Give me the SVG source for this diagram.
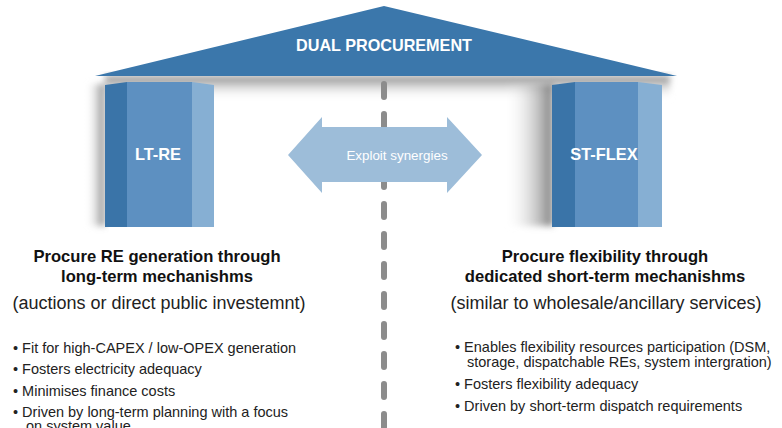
<svg xmlns="http://www.w3.org/2000/svg" width="782" height="428" viewBox="0 0 782 428">
<defs>
<style>
.t{font-family:"Liberation Sans",Arial,sans-serif;}
.w{fill:#ffffff;font-weight:bold;text-anchor:middle;}
.h{fill:#111111;font-weight:bold;font-size:16.6px;text-anchor:middle;}
.s{fill:#222222;font-size:18px;text-anchor:middle;}
.b{fill:#222222;font-size:14.5px;}
.dk{fill:#3a74a8;}
.md{fill:#5d90c1;}
.lt{fill:#86afd3;}
</style>
<linearGradient id="shL" x1="0" y1="0" x2="1" y2="0">
<stop offset="0" stop-color="#ffffff" stop-opacity="0"/>
<stop offset="1" stop-color="#707070" stop-opacity="0.9"/>
</linearGradient>
<linearGradient id="shR" x1="0" y1="0" x2="1" y2="0">
<stop offset="0" stop-color="#ffffff" stop-opacity="0"/>
<stop offset="1" stop-color="#707070" stop-opacity="0.9"/>
</linearGradient>
<linearGradient id="shT" x1="0" y1="0" x2="0" y2="1">
<stop offset="0" stop-color="#606060" stop-opacity="0.8"/>
<stop offset="1" stop-color="#ffffff" stop-opacity="0"/>
</linearGradient>
<filter id="blur" x="-20%" y="-20%" width="140%" height="140%"><feGaussianBlur stdDeviation="3"/></filter>
</defs>
<rect width="782" height="428" fill="#ffffff"/>

<!-- shadows -->
<g id="shadows">
<rect x="105" y="76" width="565" height="24" fill="url(#shT)" filter="url(#blur)"/>
<rect x="86" y="84" width="19" height="142" fill="url(#shL)" filter="url(#blur)"/>
<rect x="505" y="84" width="48" height="142" fill="url(#shR)" filter="url(#blur)"/>
</g>

<!-- connectors -->
<g id="connectors">
<line x1="384" y1="84" x2="384" y2="430" stroke="#8c8c8c" stroke-width="6" stroke-linecap="round" stroke-dasharray="13 17"/>
</g>

<g id="roof">
<polygon points="384,6 95,76 677,76" fill="#3b77ab"/>
<text class="t w" x="384" y="51" font-size="16.2">DUAL PROCUREMENT</text>
</g>

<g id="lt-re">
<polygon class="dk" points="105,85 127,82 127,227 105,227"/>
<polygon class="md" points="127,82 192,82 192,227 127,227"/>
<polygon class="lt" points="192,82 214,85 214,227 192,227"/>
<text class="t w" x="158" y="160" font-size="16.4">LT-RE</text>
</g>

<g id="st-flex">
<polygon class="dk" points="552,85 575,82 575,227 552,227"/>
<polygon class="md" points="575,82 638,82 638,227 575,227"/>
<polygon class="lt" points="638,82 662,85 662,227 638,227"/>
<text class="t w" x="604" y="160" font-size="16.4">ST-FLEX</text>
</g>

<g id="synergy">
<polygon points="288,155 322,117 322,127 447,127 447,117 482,155 447,193 447,182 322,182 322,193" fill="#9dbdd9"/>
<text class="t" x="397" y="159.5" font-size="13.4" fill="#ffffff" text-anchor="middle">Exploit synergies</text>
</g>

<g id="left-text">
<text class="t h" x="157" y="262">Procure RE generation through</text>
<text class="t h" x="157" y="282">long-term mechanishms</text>
<text class="t s" x="159" y="309">(auctions or direct public investemnt)</text>
<text class="t b" x="13" y="353">• Fit for high-CAPEX / low-OPEX generation</text>
<text class="t b" x="13" y="374">• Fosters electricity adequacy</text>
<text class="t b" x="13" y="396">• Minimises finance costs</text>
<text class="t b" x="13" y="417">• Driven by long-term planning with a focus</text>
<text class="t b" x="26" y="431">on system value</text>
</g>

<g id="right-text">
<text class="t h" x="605" y="262">Procure flexibility through</text>
<text class="t h" x="605" y="282">dedicated short-term mechanishms</text>
<text class="t s" x="606" y="309">(similar to wholesale/ancillary services)</text>
<text class="t b" x="455" y="352">• Enables flexibility resources participation (DSM,</text>
<text class="t b" x="467" y="367">storage, dispatchable REs, system intergration)</text>
<text class="t b" x="455" y="389">• Fosters flexibility adequacy</text>
<text class="t b" x="455" y="411">• Driven by short-term dispatch requirements</text>
</g>
</svg>
